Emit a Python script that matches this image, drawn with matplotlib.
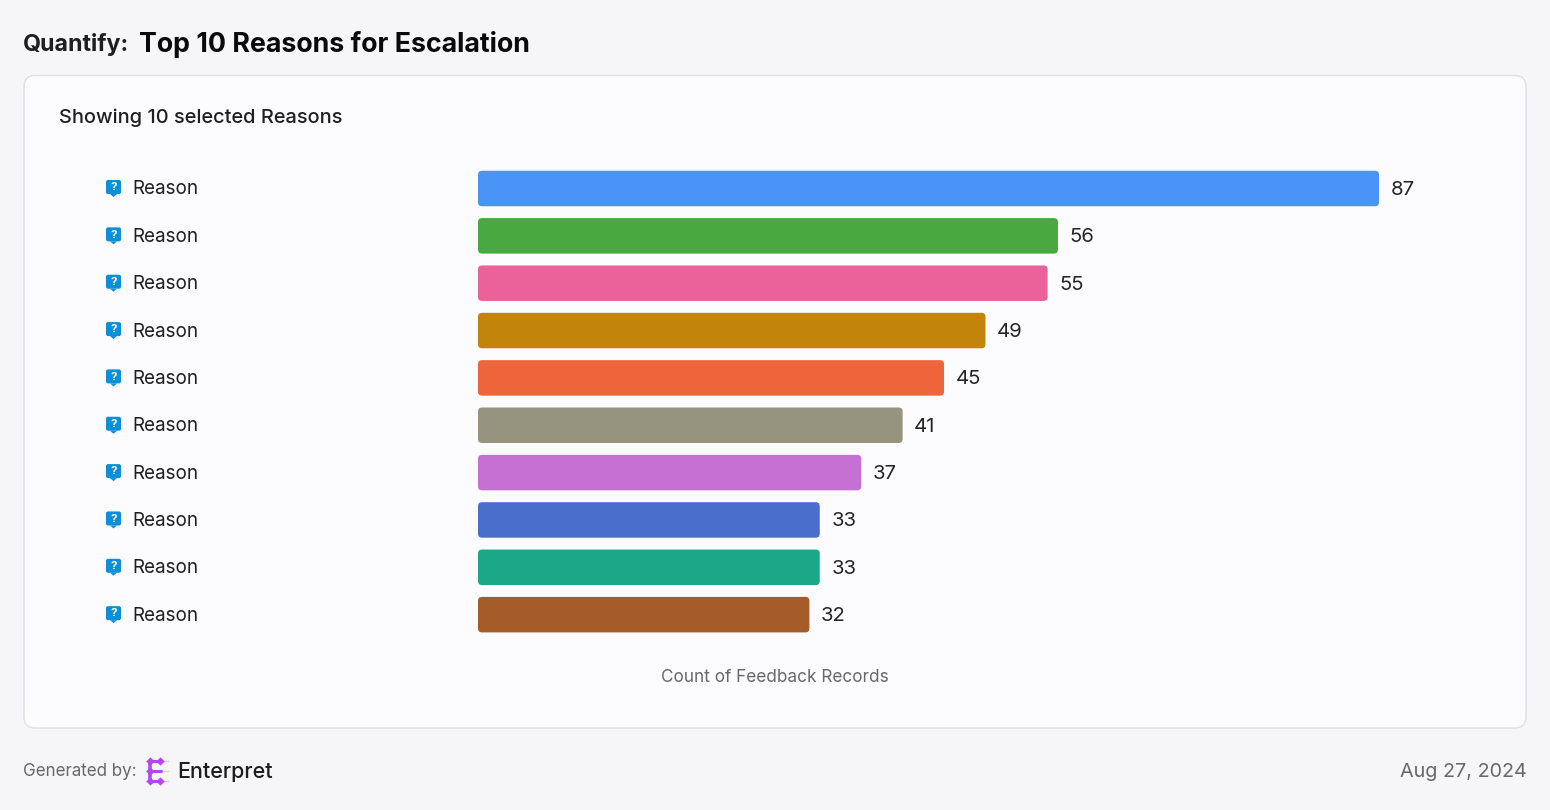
import matplotlib
matplotlib.use('Agg')
import matplotlib.pyplot as plt
from matplotlib.patches import FancyBboxPatch, Polygon

plt.rcParams['font.family'] = ['Inter', 'DejaVu Sans']

reasons = ['Reason'] * 10
counts = [87, 56, 55, 49, 45, 41, 37, 33, 33, 32]
colors = ['#4A94F7', '#4AA840', '#EA6299', '#C2840A', '#EE653C',
          '#96947E', '#C670D4', '#4A6ECC', '#1AA888', '#A55C28']

W, H = 1550, 810
PX = 0.72  # one pixel in points at dpi 100

fig = plt.figure(figsize=(W / 100, H / 100), dpi=100, facecolor='#F6F6F8')

# whole figure in pixel coordinates, for card, headings and footer
bg = fig.add_axes([0, 0, 1, 1])
bg.set_xlim(0, W)
bg.set_ylim(H, 0)
bg.axis('off')

bg.add_patch(FancyBboxPatch((24, 75.5), 1502, 652.5, boxstyle='round,pad=0,rounding_size=11',
                            fc='#FCFCFF', ec='#DFE1E4', lw=1.1))

bg.text(23, 45, 'Quantify:', fontsize=23.2 * PX, fontweight='bold', color='#1E1F21', va='center')
bg.text(139, 45, 'Top 10 Reasons for Escalation', fontsize=26.8 * PX, fontweight='bold', color='#0A0A0C', va='center')
bg.text(59, 117.5, 'Showing 10 selected Reasons', fontsize=20 * PX, fontweight='medium', color='#1E1F21', va='center')
bg.text(775, 678, 'Count of Feedback Records', fontsize=17.2 * PX, color='#66686C', ha='center', va='center')

# footer
bg.text(23, 772, 'Generated by:', fontsize=17 * PX, color='#66686C', va='center')
bg.text(1527, 772, 'Aug 27, 2024', fontsize=19.8 * PX, color='#66686C', ha='right', va='center')
bg.text(177, 772, 'Enterpret', fontsize=21.4 * PX, fontweight='medium', color='#1C1C1E', va='center')

# logo
logo = '#B845F5'
for y in [761, 771, 781]:
    bg.plot([146, 168], [y, y], color='#E6C4FB', lw=0.8)
    bg.plot([149, 161], [y, y], color=logo, lw=2.2, solid_capstyle='round')
bg.plot([150, 150], [761, 781], color=logo, lw=2.6, solid_capstyle='round')
bg.scatter([150, 160, 150, 150, 160], [761, 761, 771, 781, 781], marker='D', s=18, color=logo, lw=0, zorder=3)

# bars
bar_left, bar_right = 478, 1379
row_top, row_step = 188.5, 47.35
ax_top = row_top - row_step / 2
ax_h = row_step * len(counts)
ax = fig.add_axes([bar_left / W, 1 - (ax_top + ax_h) / H, (bar_right - bar_left) / W, ax_h / H])
ax.patch.set_alpha(0)
ax.set_xlim(0, max(counts))
ax.set_ylim(len(counts) - 0.5, -0.5)
ax.axis('off')

x_per_px = max(counts) / (bar_right - bar_left)
y_per_px = 1 / row_step
bar_h = 35.5 * y_per_px
for i, (name, value, c) in enumerate(zip(reasons, counts, colors)):
    ax.add_patch(FancyBboxPatch((0, i - bar_h / 2), value, bar_h,
                                boxstyle='round,pad=0,rounding_size=%f' % (4 * x_per_px),
                                mutation_aspect=y_per_px / x_per_px, fc=c, ec='none'))
    ax.annotate(str(value), xy=(value, i), xytext=(11.5 * PX, -1.5 * PX), textcoords='offset points',
                fontsize=20.3 * PX, color='#232426', va='center', annotation_clip=False)
    ax.annotate(name, xy=(0, i), xytext=(-345.5 * PX, -1 * PX), textcoords='offset points',
                fontsize=18.8 * PX, color='#1E1F21', va='center', annotation_clip=False)

    # little question mark icon
    yc = row_top + i * row_step - 1.5
    bg.add_patch(FancyBboxPatch((106, yc - 7), 15, 14, boxstyle='round,pad=0,rounding_size=2',
                                fc='#0B8FD9', ec='none'))
    bg.add_patch(Polygon([(110, yc + 7), (117, yc + 7), (113.5, yc + 10)], fc='#0B8FD9', ec='none'))
    bg.text(113.5, yc + 0.2, '?', fontsize=11.5 * PX, fontweight='bold', color='white', ha='center', va='center')

fig.savefig('out.png', dpi=100, facecolor=fig.get_facecolor())
